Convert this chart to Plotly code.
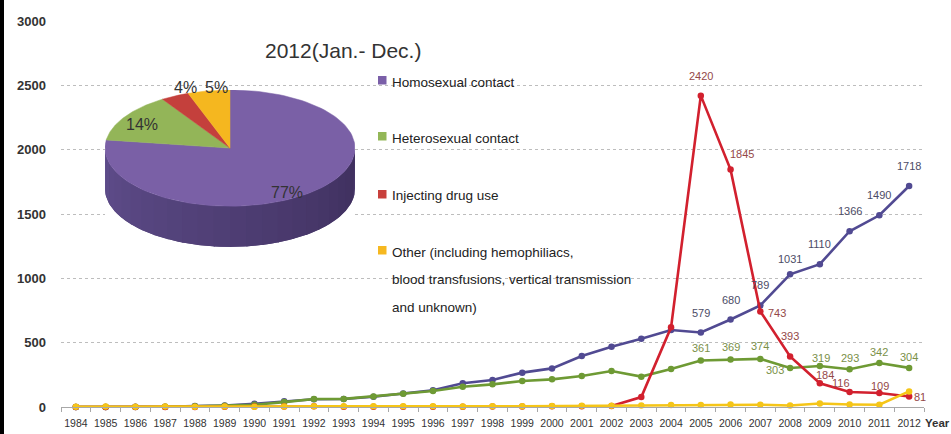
import numpy as np
import plotly.graph_objects as go

# ---------------- data ----------------
years = [str(y) for y in range(1984, 2013)]
homosexual = [0, 0, 1, 2, 8, 12, 25, 45, 60, 62, 80, 105, 130, 185, 210, 267, 300, 396, 469, 531,
              598, 579, 680, 789, 1031, 1110, 1366, 1490, 1718]
heterosexual = [0, 0, 0, 1, 6, 10, 18, 38, 62, 63, 82, 103, 125, 158, 176, 202, 215, 241, 280, 236,
                295, 361, 369, 374, 303, 319, 293, 342, 304]
injecting = [0, 0, 0, 0, 0, 2, 3, 4, 5, 2, 1, 1, 2, 2, 3, 4, 5, 6, 8, 77,
             619, 2420, 1845, 743, 393, 184, 116, 109, 81]
other = [1, 4, 2, 3, 2, 4, 2, 3, 6, 5, 6, 5, 6, 4, 5, 6, 8, 9, 10, 12,
         15, 16, 20, 18, 12, 27, 20, 18, 121]

series_names = ["Homosexual contact", "Heterosexual contact", "Injecting drug use",
                "Other (including hemophiliacs,<br>blood transfusions, vertical transmission<br>and unknown)"]
labeled_years = [str(y) for y in range(2005, 2013)]
pie_title = "2012(Jan.- Dec.)"
pie_year = "2012"

# ---------------- styles ----------------
line_colors = ["#514a92", "#6e9a34", "#d2202e", "#f5c518"]
label_colors = ["#4c4c66", "#7a9048", "#944848"]
pie_colors = ["#7a60a6", "#93b558", "#c4403c", "#f5b71f"]
legend_colors = ["#7a5fa8", "#93b757", "#c8403c", "#f6b820"]
FONT = "Liberation Sans, Arial"

# label offsets in pixels (dx, dy up)
purple_off = {"2008": (0, 15)}
green_off = {"2005": (0, 13), "2006": (0, 13), "2007": (0, 13), "2008": (-15, -2), "2009": (1, 8)}
red_off = {"2006": (11, 16), "2007": (17, -2), "2009": (5, 8), "2010": (-9, 9), "2011": (1, 7),
           "2012": (11, 0)}

L, R, T, B = 61, 27, 21, 27
W, H = 951, 434
PW, PH = W - L - R, H - T - B


def px(x):
    return (x - L) / PW


def py(y):
    return (H - B - y) / PH


fig = go.Figure()

all_series = [homosexual, heterosexual, injecting, other]
for vals, name, col in zip(all_series, series_names, line_colors):
    fig.add_trace(go.Scatter(
        x=years, y=vals, mode="lines+markers", name=name,
        line=dict(color=col, width=2.6), marker=dict(color=col, size=6.5),
        cliponaxis=False, showlegend=False, hoverinfo="x+y"))

# data labels
annotations = []
for vals, col, offs, default in [(homosexual, label_colors[0], purple_off, (0, 20)),
                                 (heterosexual, label_colors[1], green_off, (0, 11)),
                                 (injecting, label_colors[2], red_off, (0, 20))]:
    for yr in labeled_years:
        i = years.index(yr)
        v = vals[i]
        dx, dy = offs.get(yr, default)
        annotations.append(dict(x=i, y=v, xref="x", yref="y", text=str(v), showarrow=False,
                                xshift=dx, yshift=dy, xanchor="center", yanchor="middle",
                                font=dict(size=11, color=col, family=FONT)))

# ---------------- 3D-looking pie (from 2012 values) ----------------
idx = years.index(pie_year)
pie_vals = np.array([s[idx] for s in all_series], dtype=float)
shares = pie_vals / pie_vals.sum()
cum = np.concatenate([[0], np.cumsum(shares)])
depth = 0.70
c_dark = np.array([62, 47, 92])
c_light = np.array([96, 78, 140])

# side (front half of the ellipse)
for i in range(len(shares)):
    t0 = 90 - 360 * cum[i]
    t1 = 90 - 360 * cum[i + 1]
    lo, hi = max(t1, -180), min(t0, 0)
    if hi <= lo:
        continue
    a = np.radians(np.linspace(lo, hi, 100))
    xs = np.concatenate([np.cos(a), np.cos(a[::-1])])
    ys = np.concatenate([np.sin(a), np.sin(a[::-1]) - depth])
    cm = ((c_dark + c_light) / 2).astype(int)
    fig.add_trace(go.Scatter(x=xs, y=ys, xaxis="x2", yaxis="y2", mode="lines", fill="toself",
                             fillcolor=f"rgb({cm[0]},{cm[1]},{cm[2]})", line=dict(width=0),
                             hoverinfo="skip", showlegend=False))
    nseg = 24
    edges = np.linspace(lo, hi, nseg + 1)
    for k in range(nseg):
        a = np.radians(np.linspace(edges[k], edges[k + 1] + 0.6, 6))
        xs = np.concatenate([np.cos(a), np.cos(a[::-1])])
        ys = np.concatenate([np.sin(a), np.sin(a[::-1]) - depth])
        f = (edges[k] + edges[k + 1]) / 2 / -180.0  # 1 at left, 0 at right
        c = (c_dark + (c_light - c_dark) * f).astype(int)
        fig.add_trace(go.Scatter(x=xs, y=ys, xaxis="x2", yaxis="y2", mode="lines",
                                 fill="toself", fillcolor=f"rgb({c[0]},{c[1]},{c[2]})",
                                 line=dict(width=0), hoverinfo="skip", showlegend=False))

# top surface
for i in range(len(shares)):
    t0 = 90 - 360 * cum[i]
    t1 = 90 - 360 * cum[i + 1]
    a = np.radians(np.linspace(t0, t1, 120))
    xs = np.concatenate([[0], np.cos(a), [0]])
    ys = np.concatenate([[0], np.sin(a), [0]])
    fig.add_trace(go.Scatter(x=xs, y=ys, xaxis="x2", yaxis="y2", mode="lines", fill="toself",
                             fillcolor=pie_colors[i], line=dict(width=0.5, color=pie_colors[i]),
                             hoverinfo="skip", showlegend=False))

pie_label_pos = [(287, 192), (142, 125), (185, 88), (216, 87)]
for s, (lx, ly) in zip(shares, pie_label_pos):
    annotations.append(dict(x=px(lx), y=py(ly), xref="paper", yref="paper",
                            text=f"{round(s * 100)}%", showarrow=False,
                            xanchor="center", yanchor="middle",
                            font=dict(size=16, color="#333333", family=FONT)))

annotations.append(dict(x=px(343), y=py(50), xref="paper", yref="paper", text=pie_title,
                        showarrow=False, xanchor="center", yanchor="middle",
                        font=dict(size=21, color="#333333", family=FONT)))

# legend (manual)
legend_rows = [82, 138, 196, 252]
shapes = []
for name, col, ry in zip(series_names, legend_colors, legend_rows):
    lines = name.split("<br>")
    for j, ln in enumerate(lines):
        annotations.append(dict(x=px(390), y=py(ry + j * 27.5), xref="paper", yref="paper", text=ln,
                                showarrow=False, xanchor="left", yanchor="middle",
                                font=dict(size=13.5, color="#222222", family=FONT)))
    shapes.append(dict(type="rect", xref="paper", yref="paper", x0=px(378), x1=px(386.5),
                       y0=py(ry + 2.5), y1=py(ry - 6), fillcolor=col, line=dict(width=0)))

annotations.append(dict(x=px(923), y=py(423), xref="paper", yref="paper", text="Year",
                        showarrow=False, xanchor="left", yanchor="middle",
                        font=dict(size=11.5, color="#333333", family=FONT, weight="bold")))

# left black border
shapes.append(dict(type="rect", xref="paper", yref="paper", x0=px(-2), x1=px(4),
                   y0=py(H + 5), y1=py(-5), fillcolor="black", line=dict(width=0)))

fig.update_layout(
    width=W, height=H, margin=dict(l=L, r=R, t=T, b=B, autoexpand=False),
    paper_bgcolor="white", plot_bgcolor="white", showlegend=False,
    xaxis=dict(type="category", range=[-0.5, len(years) - 0.5], showgrid=False,
               showline=True, linecolor="#a8a8a8", linewidth=1, ticks="outside",
               tickson="boundaries", ticklen=4, tickcolor="#a8a8a8", zeroline=False,
               tickangle=0, automargin=False, ticklabelstandoff=6,
               tickfont=dict(size=10.5, color="#333333", family=FONT),
               fixedrange=True),
    yaxis=dict(range=[0, 3000], dtick=500, showgrid=True, gridcolor="#bdbdbd", griddash="dot",
               gridwidth=1, zeroline=False, showline=False, ticks="", automargin=False,
               ticklabelstandoff=14,
               tickfont=dict(size=13, color="#333333", family=FONT, weight="bold"),
               fixedrange=True),
    xaxis2=dict(domain=[px(105), px(355)], range=[-1, 1], visible=False, anchor="y2",
                fixedrange=True),
    yaxis2=dict(domain=[py(247), py(90)], range=[-1 - 40 / 57, 1], visible=False, anchor="x2",
                fixedrange=True),
    annotations=annotations, shapes=shapes,
)

fig.write_html("out.html")
